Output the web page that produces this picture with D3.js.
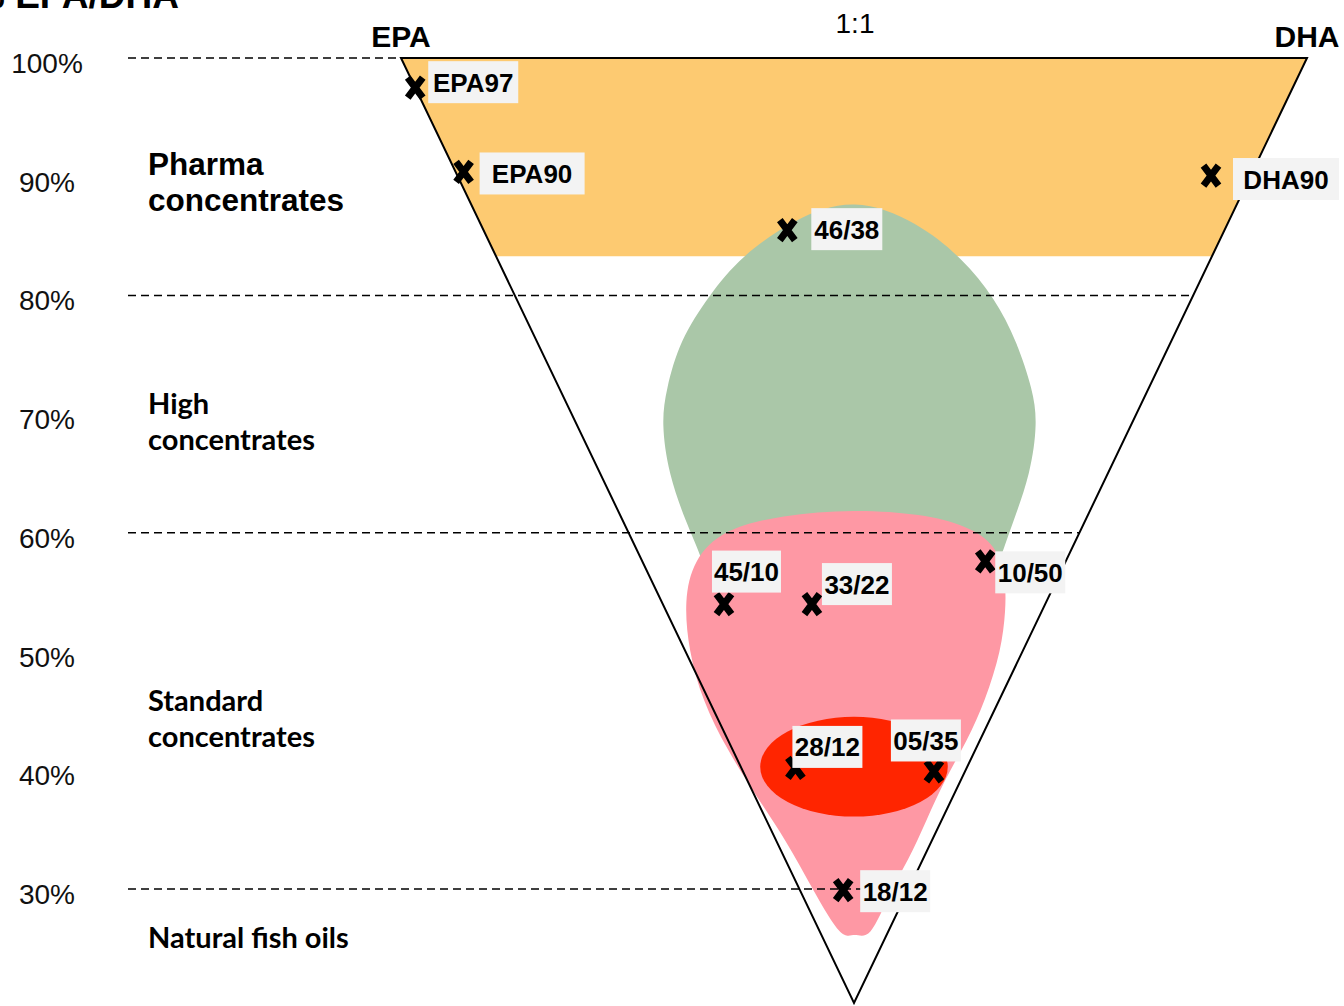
<!DOCTYPE html>
<html>
<head>
<meta charset="utf-8">
<script src="https://cdn.jsdelivr.net/npm/d3@7"></script>
<style>
  body { margin: 0; background: #fff; }
  svg { display: block; }
  .arial { font-family: "Liberation Sans", Arial, sans-serif; }
  .calibri { font-family: Lato, "Open Sans", sans-serif; font-weight: bold; }
</style>
</head>
<body>
<div id="chart"></div>
<script>
// y axis: total EPA+DHA content
var yTicks = [100, 90, 80, 70, 60, 50, 40, 30];
var gridLevels = [100, 80, 60, 30];

// corner labels on the ratio axis (-1 = pure EPA, 0 = 1:1, 1 = pure DHA)
var cornerNames = ["EPA", "1:1", "DHA"];
var cornerPos = [-1, 0, 1];

// product tiers on the left
var tierLines = [["Pharma", "concentrates"], ["High", "concentrates"], ["Standard", "concentrates"], ["Natural fish oils"]];
var tierLevel = [90, 70, 45, 25];

// products: total % and DHA share of the total
var productNames = ["EPA97", "EPA90", "DHA90", "46/38", "45/10", "33/22", "10/50", "28/12", "05/35", "18/12"];
var productTotal = [97.5, 90.4, 90.1, 85.5, 54.0, 54.0, 57.6, 40.2, 39.9, 29.9];
var productShare = [0.00, 0.01, 0.95, 0.41, 0.16, 0.39, 0.81, 0.24, 0.86, 0.40];

// label box placement: left offset, vertical offset, box width
var labelPlace = [[13, -5.5, 90], [16, 1.5, 105], [22, 3.5, 106], [24, -1, 71], [-12, -32.5, 69],
                  [10, -20, 70], [10, 11, 70], [-3, -21, 70], [-43, -31, 70], [17, 1, 70]];

// zones, outlines as [ratio position, total %]
var apexLevel = 20.4;
var pharmaBand = [83.3, 100];
var highZone = [[0.00, 88.3], [0.14, 86.2], [0.24, 83.1], [0.31, 79.8], [0.36, 76.1], [0.395, 72.0],
  [0.405, 69.3], [0.39, 65.0], [0.35, 60.8], [0.325, 58.1], [0.30, 55.2], [0.17, 52.8], [0.00, 51.9],
  [-0.19, 52.8], [-0.315, 55.2], [-0.34, 58.3], [-0.37, 60.8], [-0.41, 65.0], [-0.425, 69.3],
  [-0.415, 72.0], [-0.385, 76.2], [-0.32, 80.0], [-0.25, 83.3], [-0.13, 86.5]];
var standardZone = [[0.00, 62.0], [0.15, 61.6], [0.25, 60.6], [0.315, 59.0], [0.335, 56.0], [0.335, 53.5],
  [0.325, 50.1], [0.29, 45.9], [0.25, 42.5], [0.20, 39.2], [0.16, 35.8], [0.12, 32.4], [0.08, 29.9],
  [0.035, 25.6], [0.00, 26.4], [-0.025, 25.6], [-0.09, 29.9], [-0.15, 34.1], [-0.21, 37.5],
  [-0.28, 41.7], [-0.335, 45.9], [-0.365, 50.1], [-0.375, 54.3], [-0.355, 57.7], [-0.29, 60.3], [-0.16, 61.5]];
var coreZone = {pos: 0, total: 40.3, rPos: 0.207, rTotal: 4.2};

var width = 1344, height = 1006;

var svg = d3.select("#chart").append("svg")
    .attr("width", width)
    .attr("height", height);

var y = d3.scaleLinear().domain([100, 30]).range([58, 889]);
var x = d3.scaleLinear().domain([-1, 1]).range([401, 1307]);
// relative half width of the triangle at a given total
var spread = d3.scaleLinear().domain([apexLevel, 100]).range([0, 1]);

function edgeX(level, side) { return x(side * spread(level)); }
function productX(level, share) { return x((2 * share - 1) * spread(level)); }

// pharma band
var band = [[edgeX(pharmaBand[1], -1), y(pharmaBand[1])], [edgeX(pharmaBand[1], 1), y(pharmaBand[1])],
            [edgeX(pharmaBand[0], 1), y(pharmaBand[0])], [edgeX(pharmaBand[0], -1), y(pharmaBand[0])]];
svg.append("path")
    .attr("d", "M" + band.join("L") + "Z")
    .attr("fill", "#fdca71");

var zoneLine = d3.line()
    .x(function(d) { return x(d[0]); })
    .y(function(d) { return y(d[1]); })
    .curve(d3.curveBasisClosed);

svg.append("path")
    .attr("d", zoneLine(highZone))
    .attr("fill", "#aac7a8");

svg.append("path")
    .attr("d", zoneLine(standardZone))
    .attr("fill", "#fe98a4");

svg.append("ellipse")
    .attr("cx", x(coreZone.pos))
    .attr("cy", y(coreZone.total))
    .attr("rx", x(coreZone.rPos) - x(0))
    .attr("ry", y(coreZone.total - coreZone.rTotal) - y(coreZone.total))
    .attr("fill", "#ff2500");

// triangle
var tri = [[x(-1), y(100)], [x(1), y(100)], [x(0), y(apexLevel)]];
svg.append("path")
    .attr("d", "M" + tri.join("L") + "Z")
    .attr("fill", "none")
    .attr("stroke", "#000")
    .attr("stroke-width", 2)
    .attr("stroke-linejoin", "miter");

// dashed levels
svg.selectAll(".grid")
    .data(gridLevels)
  .enter().append("line")
    .attr("class", "grid")
    .attr("x1", 128)
    .attr("x2", function(d) { return d == 100 ? edgeX(d, -1) : edgeX(d, 1); })
    .attr("y1", y)
    .attr("y2", y)
    .attr("stroke", "#000")
    .attr("stroke-width", 1.5)
    .attr("stroke-dasharray", "8,5");

// percent labels
svg.selectAll(".ytick")
    .data(yTicks)
  .enter().append("text")
    .attr("class", "ytick arial")
    .attr("x", 47)
    .attr("y", function(d) { return y(d) + 15; })
    .attr("text-anchor", "middle")
    .style("font-size", "28px")
    .attr("fill", "#111")
    .text(function(d) { return d + "%"; });

// title (cut at the top edge)
svg.append("text")
    .attr("class", "arial")
    .attr("x", -28)
    .attr("y", 8)
    .style("font-size", "37px")
    .style("font-weight", "bold")
    .text("% EPA/DHA");

// corner labels
svg.selectAll(".corner")
    .data(cornerNames)
  .enter().append("text")
    .attr("class", "corner arial")
    .attr("x", function(d, i) { return x(cornerPos[i]) + (i == 1 ? 1 : 0); })
    .attr("y", function(d, i) { return i == 1 ? 33 : 47; })
    .attr("text-anchor", "middle")
    .style("font-size", function(d, i) { return i == 1 ? "28px" : "30px"; })
    .style("font-weight", function(d, i) { return i == 1 ? "normal" : "bold"; })
    .text(function(d) { return d; });

// tier names
var tiers = svg.selectAll(".tier")
    .data(tierLines)
  .enter().append("text")
    .attr("class", function(d, i) { return i == 0 ? "tier arial" : "tier calibri"; })
    .style("font-size", function(d, i) { return i == 0 ? "31.5px" : "29px"; })
    .style("font-weight", "bold")
    .attr("y", function(d, i) { return y(tierLevel[i]) - (i == 0 ? 2 : 0); });

tiers.selectAll("tspan")
    .data(function(d) { return d; })
  .enter().append("tspan")
    .attr("x", 148)
    .attr("dy", function(d, i) { return i == 0 ? 0 : 36; })
    .text(function(d) { return d; });

// product markers
var products = productNames.map(function(name, i) {
  return {name: name, cx: productX(productTotal[i], productShare[i]), cy: y(productTotal[i]), place: labelPlace[i]};
});

var marks = svg.selectAll(".mark")
    .data(products)
  .enter().append("g")
    .attr("class", "mark")
    .attr("transform", function(d) { return "translate(" + d.cx + "," + d.cy + ")"; });

marks.append("path")
    .attr("d", "M-7.5,-10L7.5,10M7.5,-10L-7.5,10")
    .attr("stroke", "#000")
    .attr("stroke-width", 7);

var tags = svg.selectAll(".tag")
    .data(products)
  .enter().append("g")
    .attr("class", "tag")
    .attr("transform", function(d) { return "translate(" + (d.cx + d.place[0]) + "," + (d.cy + d.place[1]) + ")"; });

tags.append("rect")
    .attr("x", 0)
    .attr("y", -21)
    .attr("width", function(d) { return d.place[2]; })
    .attr("height", 42)
    .attr("fill", "#f3f3f3");

tags.append("text")
    .attr("class", "arial")
    .attr("x", function(d) { return d.place[2] / 2; })
    .attr("y", 9.5)
    .attr("text-anchor", "middle")
    .style("font-size", "26px")
    .style("font-weight", "bold")
    .text(function(d) { return d.name; });
</script>
</body>
</html>
